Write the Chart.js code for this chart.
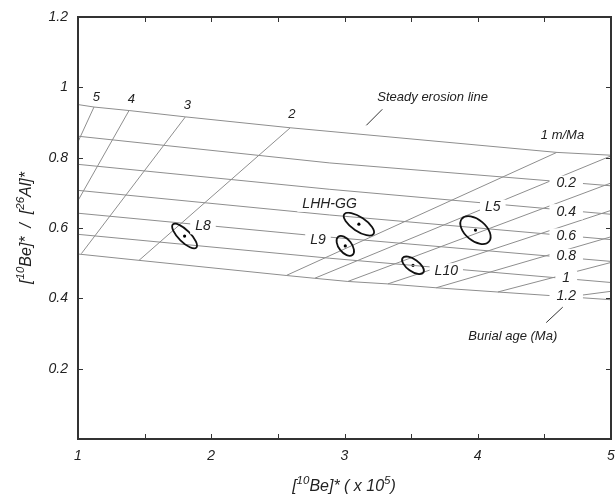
<!DOCTYPE html>
<html>
<head>
<meta charset="utf-8">
<script src="https://cdn.jsdelivr.net/npm/chart.js@4.4.1/dist/chart.umd.min.js"></script>
<style>
  html, body { margin: 0; padding: 0; background: #fff; }
  #wrap { width: 615px; height: 500px; position: relative; }
</style>
</head>
<body>
<div id="wrap"><canvas id="burialChart"></canvas></div>
<script>
/* ── data ── */

// axis ticks
const xTickValues = [1, 1.5, 2, 2.5, 3, 3.5, 4, 4.5, 5];
const yTickValues = [0, 0.2, 0.4, 0.6, 0.8, 1, 1.2];

// burial age lines (Ma); '0' is the steady erosion line
const burialAges = ['0', '0.2', '0.4', '0.6', '0.8', '1', '1.2'];
const burialX = [
  [1, 1.12, 1.383, 1.806, 2.593, 4.593, 5],
  [1, 2.89, 5],
  [1, 2.89, 5],
  [1, 2.89, 5],
  [1, 2.89, 5],
  [1, 2.89, 5],
  [1, 1.458, 2.563, 2.776, 3.025, 3.325, 3.688, 4.15, 5],
];
const burialY = [
  [0.951, 0.944, 0.934, 0.916, 0.885, 0.815, 0.807],
  [0.861, 0.785, 0.720],
  [0.781, 0.710, 0.639],
  [0.707, 0.637, 0.567],
  [0.642, 0.574, 0.505],
  [0.582, 0.514, 0.445],
  [0.526, 0.508, 0.465, 0.457, 0.448, 0.441, 0.430, 0.418, 0.396],
];
// where the age labels sit
const burialLabelX = [4.664, 4.664, 4.664, 4.664, 4.664, 4.664];
const burialLabelY = [0.727, 0.646, 0.577, 0.519, 0.457, 0.405];

// erosion rate lines (m/Ma): top on the steady line, bottom on the 1.2 Ma line (or the frame)
const erosionRates = ['5', '4', '3', '2', '1', '0.9', '0.8', '0.7', '0.6', '0.5', '0.4'];
const erosionTopX  = [1.12, 1.383, 1.806, 2.593, 4.593, 5, 5, 5, 5, 5, 5];
const erosionTopY  = [0.944, 0.934, 0.916, 0.885, 0.815, 0.805, 0.728, 0.650, 0.575, 0.502, 0.420];
const erosionBotX  = [1, 1, 1.025, 1.458, 2.563, 2.776, 3.025, 3.325, 3.688, 4.15, 4.70];
const erosionBotY  = [0.845, 0.678, 0.527, 0.508, 0.465, 0.457, 0.448, 0.441, 0.430, 0.418, 0.405];
// labelled rates
const rateLabels = ['5', '4', '3', '2', '1 m/Ma'];
const rateLabelX = [1.138, 1.40, 1.821, 2.605, 4.636];
const rateLabelY = [0.972, 0.965, 0.948, 0.923, 0.864];

// samples: centre and error ellipse (half major axis in data units, minor/major ratio)
const sampleNames  = ['L8', 'LHH-GG', 'L9', 'L10', 'L5'];
const sampleX      = [1.80, 3.108, 3.006, 3.514, 3.983];
const sampleY      = [0.577, 0.611, 0.549, 0.494, 0.594];
const sampleMajDX  = [0.088, 0.110, 0.053, 0.078, 0.102];
const sampleMajDY  = [-0.033, -0.028, -0.026, -0.0207, -0.0324];
const sampleRatio  = [0.36, 0.40, 0.56, 0.47, 0.59];
const sampleLabelX = [1.938, 2.888, 2.801, 3.764, 4.113];
const sampleLabelY = [0.604, 0.668, 0.566, 0.478, 0.659];

/* ── styles ── */
const FONT      = "'Liberation Sans', Arial, Helvetica, sans-serif";
const GRID_GRAY = '#8e8e8e';
const INK       = '#222';

const toPoints = (xs, ys) => xs.map((v, i) => ({ x: v, y: ys[i] }));

const datasets = [];
burialAges.forEach((age, i) => {
  datasets.push({
    label: 'age ' + age,
    data: toPoints(burialX[i], burialY[i]),
    showLine: true, borderColor: GRID_GRAY, borderWidth: 1, pointRadius: 0,
  });
});
erosionRates.forEach((r, i) => {
  datasets.push({
    label: 'rate ' + r,
    data: [{ x: erosionTopX[i], y: erosionTopY[i] }, { x: erosionBotX[i], y: erosionBotY[i] }],
    showLine: true, borderColor: GRID_GRAY, borderWidth: 1, pointRadius: 0,
  });
});
datasets.push({
  label: 'samples',
  data: toPoints(sampleX, sampleY),
  showLine: false, pointRadius: 1.6, backgroundColor: '#000', borderWidth: 0,
});

/* text with a white box behind it, masking the lines */
function boxedText(ctx, text, px, py, size, padX) {
  ctx.font = `italic ${size}px ${FONT}`;
  const w = ctx.measureText(text).width;
  ctx.fillStyle = '#fff';
  ctx.fillRect(px - w / 2 - padX, py - size * 0.55, w + padX * 2, size * 1.1);
  ctx.fillStyle = INK;
  ctx.fillText(text, px, py);
}

/* [text, superscript?] pieces, centred on (cx, cy) */
function richText(ctx, parts, cx, cy, size) {
  const widths = parts.map(([t, sup]) => {
    ctx.font = `italic ${sup ? size * 0.72 : size}px ${FONT}`;
    return ctx.measureText(t).width;
  });
  let px = cx - widths.reduce((s, w) => s + w, 0) / 2;
  parts.forEach(([t, sup], i) => {
    ctx.font = `italic ${sup ? size * 0.72 : size}px ${FONT}`;
    ctx.fillText(t, px, sup ? cy - size * 0.38 : cy);
    px += widths[i];
  });
}

const overlay = {
  id: 'overlay',
  afterDatasetsDraw(chart) {
    const { ctx, scales: { x, y } } = chart;
    ctx.save();
    ctx.textAlign = 'center';
    ctx.textBaseline = 'middle';

    // error ellipses
    ctx.strokeStyle = '#111';
    ctx.lineWidth = 1.8;
    sampleNames.forEach((_, i) => {
      const cx = x.getPixelForValue(sampleX[i]);
      const cy = y.getPixelForValue(sampleY[i]);
      const vx = x.getPixelForValue(sampleX[i] + sampleMajDX[i]) - cx;
      const vy = y.getPixelForValue(sampleY[i] + sampleMajDY[i]) - cy;
      const a = Math.hypot(vx, vy);
      ctx.beginPath();
      ctx.ellipse(cx, cy, a, a * sampleRatio[i], Math.atan2(vy, vx), 0, Math.PI * 2);
      ctx.stroke();
    });

    // labels sitting on the lines
    burialLabelX.forEach((v, i) => {
      boxedText(ctx, burialAges[i + 1], x.getPixelForValue(v), y.getPixelForValue(burialLabelY[i]), 14, 7);
    });
    sampleNames.forEach((n, i) => {
      boxedText(ctx, n, x.getPixelForValue(sampleLabelX[i]), y.getPixelForValue(sampleLabelY[i]), 14, 5);
    });

    // erosion rate labels
    ctx.fillStyle = INK;
    ctx.font = `italic 13px ${FONT}`;
    rateLabels.forEach((t, i) => {
      ctx.fillText(t, x.getPixelForValue(rateLabelX[i]), y.getPixelForValue(rateLabelY[i]));
    });

    // notes with leader lines
    ctx.font = `italic 13px ${FONT}`;
    ctx.fillText('Steady erosion line', x.getPixelForValue(3.661), y.getPixelForValue(0.9725));
    ctx.fillText('Burial age (Ma)', x.getPixelForValue(4.263), y.getPixelForValue(0.2916));
    ctx.strokeStyle = '#333';
    ctx.lineWidth = 1;
    ctx.beginPath();
    ctx.moveTo(x.getPixelForValue(3.284), y.getPixelForValue(0.9376));
    ctx.lineTo(x.getPixelForValue(3.164), y.getPixelForValue(0.892));
    ctx.moveTo(x.getPixelForValue(4.638), y.getPixelForValue(0.375));
    ctx.lineTo(x.getPixelForValue(4.514), y.getPixelForValue(0.331));
    ctx.stroke();
    ctx.restore();
  },
  afterDraw(chart) {
    const { ctx, chartArea: a, scales: { x, y } } = chart;
    ctx.save();
    // frame with inward ticks on all four sides
    ctx.strokeStyle = '#333';
    ctx.lineWidth = 2;
    ctx.strokeRect(a.left, a.top, a.right - a.left, a.bottom - a.top);
    ctx.lineWidth = 1;
    ctx.beginPath();
    xTickValues.forEach((v) => {
      const px = Math.round(x.getPixelForValue(v)) + 0.5;
      ctx.moveTo(px, a.bottom); ctx.lineTo(px, a.bottom - 5);
      ctx.moveTo(px, a.top);    ctx.lineTo(px, a.top + 5);
    });
    yTickValues.forEach((v) => {
      const py = Math.round(y.getPixelForValue(v)) + 0.5;
      ctx.moveTo(a.left, py);  ctx.lineTo(a.left + 5, py);
      ctx.moveTo(a.right, py); ctx.lineTo(a.right - 5, py);
    });
    ctx.stroke();

    // axis titles
    ctx.fillStyle = INK;
    ctx.textAlign = 'left';
    ctx.textBaseline = 'middle';
    richText(ctx, [['[', 0], ['10', 1], ['Be]* ( x 10', 0], ['5', 1], [')', 0]], 344, 487, 16);
    ctx.translate(27, 228);
    ctx.rotate(-Math.PI / 2);
    richText(ctx, [['[', 0], ['10', 1], ['Be]*  /  [', 0], ['26', 1], ['Al]*', 0]], 0, 0, 16);
    ctx.restore();
  },
};

const noSidePadding = (s) => { s.paddingLeft = 0; s.paddingRight = 0; s.paddingTop = 0; s.paddingBottom = 0; };

new Chart(document.getElementById('burialChart'), {
  type: 'scatter',
  data: { datasets },
  options: {
    responsive: true,
    maintainAspectRatio: false,
    animation: false,
    devicePixelRatio: 1,
    layout: { padding: { top: 17, right: 3, left: 0, bottom: 0 } },
    plugins: { legend: { display: false }, tooltip: { enabled: false } },
    scales: {
      x: {
        type: 'linear', min: 1, max: 5,
        grid: { display: false, drawTicks: false },
        border: { display: false },
        ticks: { stepSize: 1, padding: 9, color: INK, font: { family: FONT, size: 14, style: 'italic' } },
        afterFit: (s) => { s.height = 61; noSidePadding(s); },
      },
      y: {
        type: 'linear', min: 0, max: 1.2,
        grid: { display: false, drawTicks: false },
        border: { display: false },
        ticks: {
          stepSize: 0.2, padding: 10, color: INK,
          font: { family: FONT, size: 14, style: 'italic' },
          callback: (v) => (v === 0 ? '' : String(+v.toFixed(1))),
        },
        afterFit: (s) => { s.width = 78; noSidePadding(s); },
      },
    },
  },
  plugins: [overlay],
});
</script>
</body>
</html>
